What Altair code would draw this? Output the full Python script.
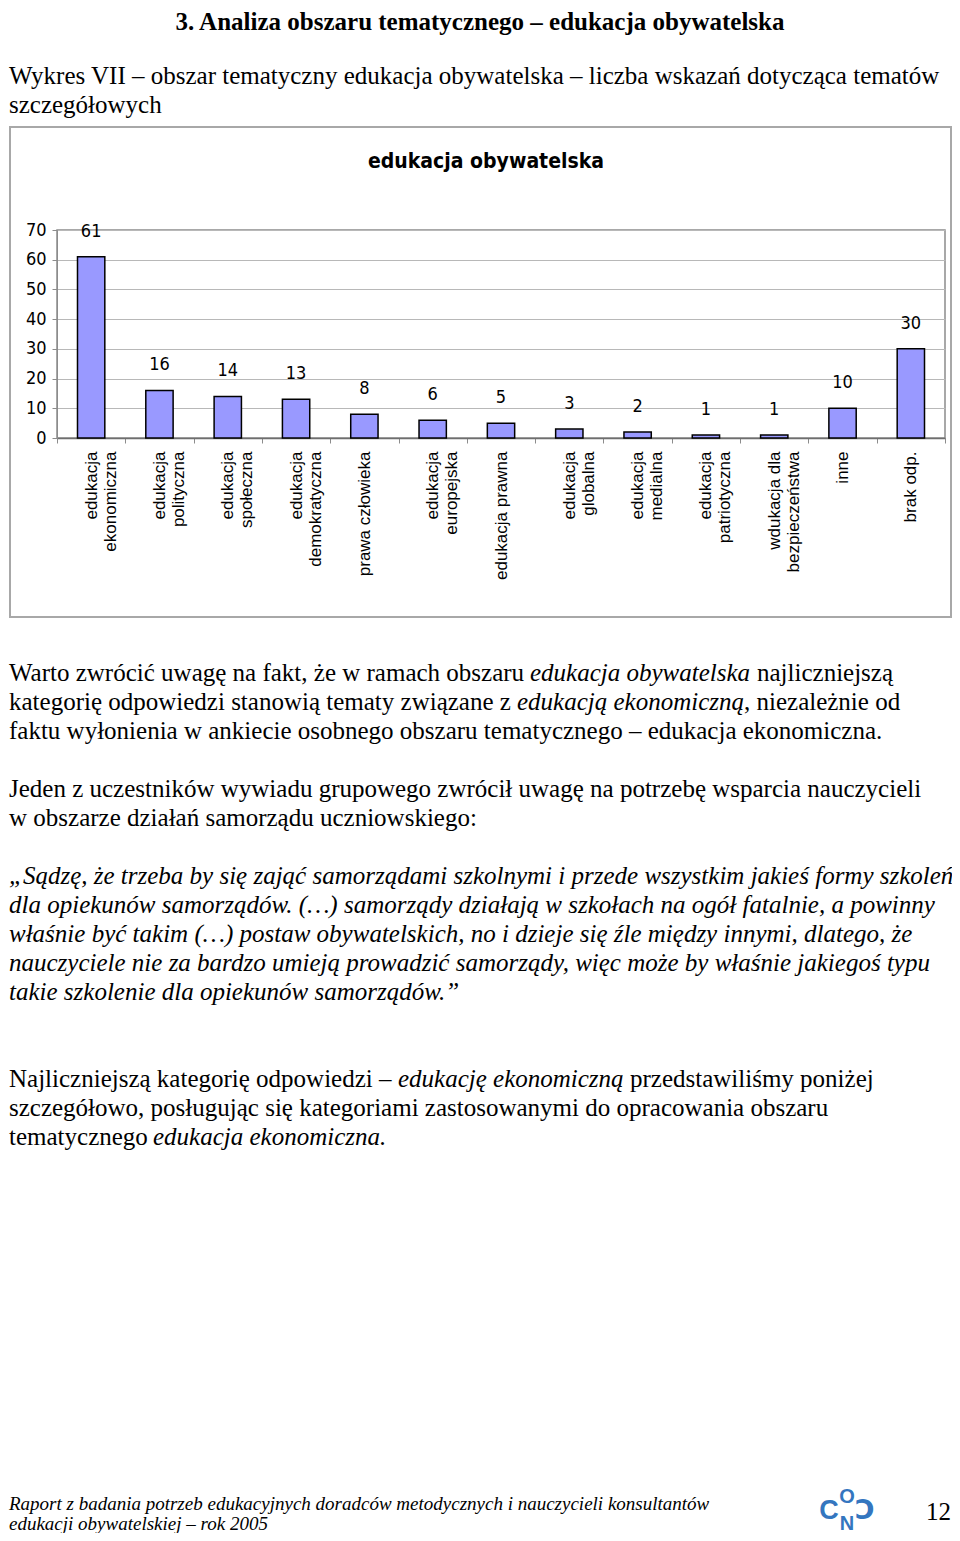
import altair as alt
import pandas as pd

# ---------------- data ----------------
categories = [
    "edukacja|ekonomiczna", "edukacja|polityczna", "edukacja|społeczna",
    "edukacja|demokratyczna", "prawa człowieka", "edukacja|europejska",
    "edukacja prawna", "edukacja|globalna", "edukacja|medialna",
    "edukacja|patriotyczna", "wdukacja dla|bezpieczeństwa", "inne", "brak odp.",
]
values = [61, 16, 14, 13, 8, 6, 5, 3, 2, 1, 1, 10, 30]
y_ticks = [0, 10, 20, 30, 40, 50, 60, 70]
chart_title = "edukacja obywatelska"

heading = "3. Analiza obszaru tematycznego – edukacja obywatelska"
caption_lines = [
    "Wykres VII – obszar tematyczny edukacja obywatelska – liczba wskazań dotycząca tematów",
    "szczegółowych",
]
p1_l1 = ["Warto zwrócić uwagę na fakt, że w ramach obszaru", "edukacja obywatelska", "najliczniejszą"]
p1_l2 = ["kategorię odpowiedzi stanowią tematy związane z", "edukacją ekonomiczną", ", niezależnie od"]
p1_l3 = "faktu wyłonienia w ankiecie osobnego obszaru tematycznego – edukacja ekonomiczna."
p2_lines = [
    "Jeden z uczestników wywiadu grupowego zwrócił uwagę na potrzebę wsparcia nauczycieli",
    "w obszarze działań samorządu uczniowskiego:",
]
p3_lines = [
    "„Sądzę, że trzeba by się zająć samorządami szkolnymi i przede wszystkim jakieś formy szkoleń",
    "dla opiekunów samorządów. (…) samorządy działają w szkołach na ogół fatalnie, a powinny",
    "właśnie być takim (…) postaw obywatelskich, no i dzieje się źle między innymi, dlatego, że",
    "nauczyciele nie za bardzo umieją prowadzić samorządy, więc może by właśnie jakiegoś typu",
    "takie szkolenie dla opiekunów samorządów.”",
]
p4_l1 = ["Najliczniejszą kategorię odpowiedzi –", "edukację ekonomiczną", "przedstawiliśmy poniżej"]
p4_l2 = "szczegółowo, posługując się kategoriami zastosowanymi do opracowania obszaru"
p4_l3 = ["tematycznego", "edukacja ekonomiczna."]
footer_lines = [
    "Raport z badania potrzeb edukacyjnych doradców metodycznych i nauczycieli konsultantów",
    "edukacji obywatelskiej – rok 2005",
]
page_number = "12"

df = pd.DataFrame({"kat": categories, "n": values})

# ---------------- styles ----------------
SERIF = "'Liberation Serif', 'Times New Roman', serif"
SANS = "'Liberation Sans', Arial, sans-serif"
NARROW = "'Liberation Sans Narrow', 'Arial Narrow', 'DejaVu Sans Condensed', sans-serif"
OX, OY = 57, 230          # page position of plot origin
PW, PH = 888, 208         # plot size
LX = 9                    # left text margin (page px)
dummy = alt.Data(values=[{}])


def txt(text, px, py, size=25, style="normal", weight="normal", font=SERIF,
        align="left", lh=29, color="black", baseline="alphabetic"):
    return alt.Chart(dummy).mark_text(
        text=text, font=font, fontSize=size, fontStyle=style, fontWeight=weight,
        align=align, baseline=baseline, lineHeight=lh, color=color,
    ).encode(x=alt.value(px - OX), y=alt.value(py - OY))


# ---------------- chart ----------------
box = alt.Chart(dummy).mark_rect(fillOpacity=0, stroke="#a8a8a8", strokeWidth=2).encode(
    x=alt.value(10 - OX), x2=alt.value(951 - OX),
    y=alt.value(127 - OY), y2=alt.value(617 - OY),
)

title = txt(chart_title, 486, 162, size=21, weight="bold", font=NARROW,
            align="center", baseline="middle")

x_enc = alt.X(
    "kat:N", sort=None,
    scale=alt.Scale(paddingInner=0, paddingOuter=0),
    axis=alt.Axis(
        title=None, labelAngle=270, labelAlign="right", labelBaseline="middle",
        labelExpr="split(datum.label, '|')", labelLineHeight=19,
        labelFont=SANS, labelFontSize=17, labelColor="black",
        labelPadding=8, labelOverlap=False, labelLimit=300,
        tickBand="extent", tickSize=5, tickColor="#8c8c8c",
        domainColor="#6e6e6e", domainWidth=1.5, grid=False,
    ),
)
y_enc = alt.Y(
    "n:Q",
    scale=alt.Scale(domain=[0, 70], nice=False),
    axis=alt.Axis(
        title=None, values=y_ticks, grid=True, gridColor="#b8b8b8",
        domainColor="#8c8c8c", tickColor="#8c8c8c", tickSize=5,
        labelFont=NARROW, labelFontSize=18, labelColor="black", labelPadding=6,
        labelOverlap=False,
    ),
)

base = alt.Chart(df).encode(x=x_enc, y=y_enc)
bars = base.mark_bar(
    width=alt.RelativeBandSize(0.4), color="#9999FF", stroke="black", strokeWidth=1.5
)
bar_labels = base.mark_text(
    dy=-25, font=NARROW, fontSize=18, color="black"
).encode(text="n:Q")

logo_blue = "#3476bf"
layers = [
    box, bars, bar_labels, title,
    txt(heading, 480, 30, weight="bold", align="center"),
    txt(caption_lines, LX, 84),
    txt(p1_l1[0], LX, 681), txt(p1_l1[1], 530, 681, style="italic"), txt(p1_l1[2], 757, 681),
    txt(p1_l2[0], LX, 710), txt(p1_l2[1], 517, 710, style="italic"), txt(p1_l2[2], 744, 710),
    txt(p1_l3, LX, 739),
    txt(p2_lines, LX, 797),
    txt(p3_lines, LX, 884, style="italic"),
    txt(p4_l1[0], LX, 1087), txt(p4_l1[1], 398, 1087, style="italic"), txt(p4_l1[2], 630, 1087),
    txt(p4_l2, LX, 1116),
    txt(p4_l3[0], LX, 1145), txt(p4_l3[1], 153, 1145, style="italic"),
    txt(footer_lines, LX, 1510, size=19, style="italic", lh=20),
    txt(page_number, 951, 1520, align="right"),
    # CODN logo built from letters
    txt("O", 847, 1497, size=20, weight="bold", font=SANS, align="center",
        baseline="middle", color=logo_blue),
    txt("N", 847, 1524, size=20, weight="bold", font=SANS, align="center",
        baseline="middle", color=logo_blue),
    txt("C", 829, 1511, size=27, weight="bold", font=SANS, align="center",
        baseline="middle", color=logo_blue),
    txt("Ↄ", 865, 1511, size=27, weight="bold", font="'DejaVu Sans', sans-serif",
        align="center", baseline="middle", color=logo_blue),
]

chart = alt.layer(*layers).properties(
    width=PW, height=PH,
    autosize="none",
    padding={"left": OX - 8, "top": OY - 8, "right": 944 - (OX - 8) - PW,
             "bottom": 1525 - (OY - 8) - PH},
    background="white",
).configure_view(stroke="#8c8c8c", strokeWidth=1.5)

chart.save("out.html", embed_options={"renderer": "svg", "actions": False})
